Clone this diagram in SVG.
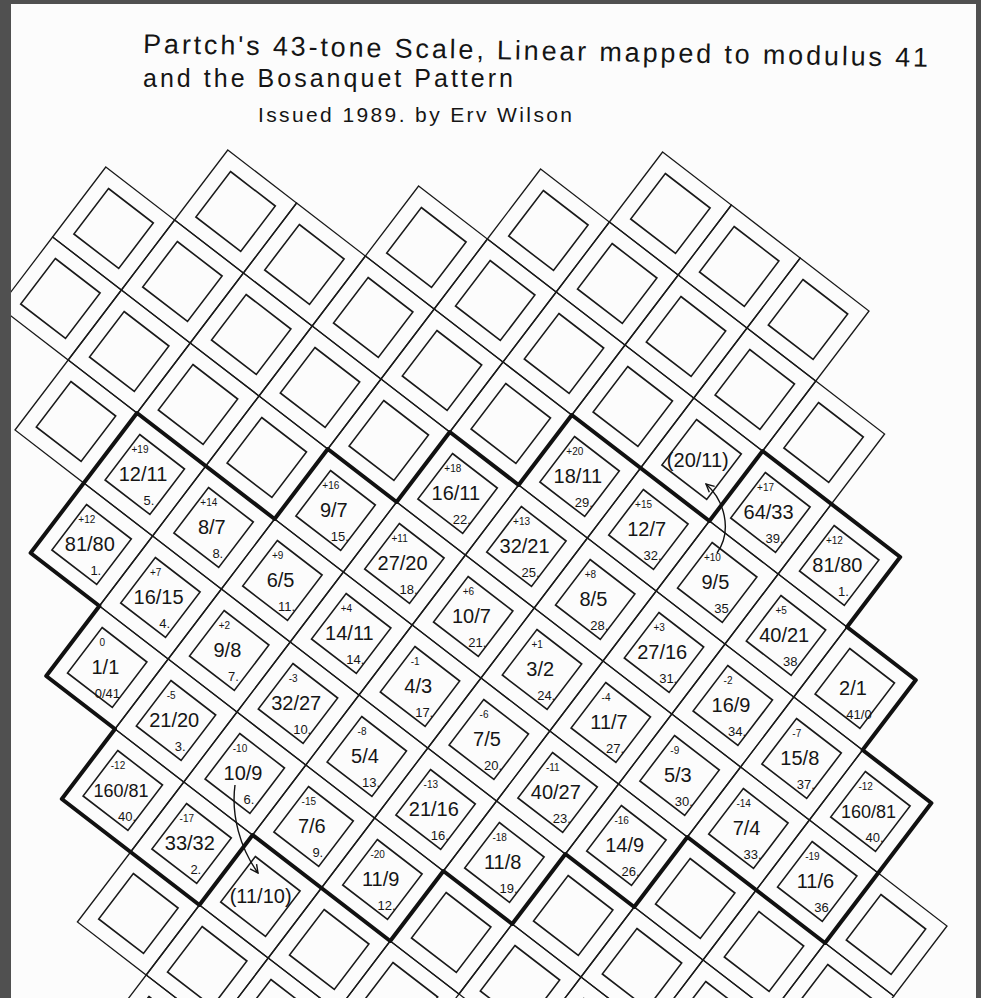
<svg xmlns="http://www.w3.org/2000/svg" width="981" height="998" viewBox="0 0 981 998">
<style>
.o{fill:none;stroke:#1a1a1a;stroke-width:1.3}
.i{fill:none;stroke:#1a1a1a;stroke-width:1.6}
text{font-family:"Liberation Sans",Arial,sans-serif;fill:#151515;text-anchor:middle}
.m{font-size:10px}
.f{font-size:20px}
.f5{font-size:18px}
.n{font-size:13px}
.p{font-size:20px}
.t{text-anchor:start}
.b{fill:none;stroke:#111;stroke-width:4;stroke-linejoin:round}
.a{fill:none;stroke:#111;stroke-width:1.4}
</style>
<defs>
<g id="cell"><polygon class="o" points="0,0 68.8,53 15.6,123 -53.2,70"/><polygon class="i" points="2.7,21.5 47.5,56 12.9,101.5 -31.9,67"/></g>
<marker id="ah" viewBox="0 0 10 10" refX="9" refY="5" markerWidth="10" markerHeight="10" markerUnits="userSpaceOnUse" orient="auto"><path d="M1,1 L9,5 L1,9" fill="none" stroke="#111" stroke-width="1.4"/></marker>
</defs>
<rect width="981" height="998" fill="#fcfcfc"/>

<g id="title">
<text class="t" x="143" y="53" font-size="27" textLength="785" lengthAdjust="spacing" transform="rotate(1 143 53)">Partch's 43-tone Scale, Linear mapped to modulus 41</text>
<text class="t" x="143" y="87" font-size="25" textLength="370" lengthAdjust="spacing">and the Bosanquet Pattern</text>
<text class="t" x="258" y="122" font-size="21" textLength="314" lengthAdjust="spacing">Issued 1989. by Erv Wilson</text>
</g>

<g id="empty-upper">
<g id="u_3_m6" transform="translate(662.6,152)"><use href="#cell"/></g>
<g id="u_4_m6" transform="translate(731.4,205)"><use href="#cell"/></g>
<g id="u_5_m6" transform="translate(800.2,258)"><use href="#cell"/></g>
<g id="u_2_m5" transform="translate(540.6,169)"><use href="#cell"/></g>
<g id="u_3_m5" transform="translate(609.4,222)"><use href="#cell"/></g>
<g id="u_4_m5" transform="translate(678.2,275)"><use href="#cell"/></g>
<g id="u_5_m5" transform="translate(747,328)"><use href="#cell"/></g>
<g id="u_6_m5" transform="translate(815.8,381)"><use href="#cell"/></g>
<g id="u_1_m4" transform="translate(418.6,186)"><use href="#cell"/></g>
<g id="u_2_m4" transform="translate(487.4,239)"><use href="#cell"/></g>
<g id="u_3_m4" transform="translate(556.2,292)"><use href="#cell"/></g>
<g id="u_4_m4" transform="translate(625,345)"><use href="#cell"/></g>
<g id="u_20-11" transform="translate(693.8,398)"><use href="#cell"/><text class="p" x="4" y="69">(20/11)</text></g>
<g id="u_m1_m3" transform="translate(227.8,150)"><use href="#cell"/></g>
<g id="u_0_m3" transform="translate(296.6,203)"><use href="#cell"/></g>
<g id="u_1_m3" transform="translate(365.4,256)"><use href="#cell"/></g>
<g id="u_2_m3" transform="translate(434.2,309)"><use href="#cell"/></g>
<g id="u_3_m3" transform="translate(503,362)"><use href="#cell"/></g>
<g id="u_m2_m2" transform="translate(105.8,167)"><use href="#cell"/></g>
<g id="u_m1_m2" transform="translate(174.6,220)"><use href="#cell"/></g>
<g id="u_0_m2" transform="translate(243.4,273)"><use href="#cell"/></g>
<g id="u_1_m2" transform="translate(312.2,326)"><use href="#cell"/></g>
<g id="u_2_m2" transform="translate(381,379)"><use href="#cell"/></g>
<g id="u_m2_m1" transform="translate(52.6,237)"><use href="#cell"/></g>
<g id="u_m1_m1" transform="translate(121.4,290)"><use href="#cell"/></g>
<g id="u_0_m1" transform="translate(190.2,343)"><use href="#cell"/></g>
<g id="u_1_m1" transform="translate(259,396)"><use href="#cell"/></g>
<g id="u_m1_0" transform="translate(68.2,360)"><use href="#cell"/></g>
</g>

<g id="empty-lower">
<g id="l_11-10" transform="translate(252.6,835)"><use href="#cell"/><text class="p" x="8" y="68">(11/10)</text></g>
<g id="l_5_3" transform="translate(321.4,888)"><use href="#cell"/></g>
<g id="l_6_3" transform="translate(390.2,941)"><use href="#cell"/></g>
<g id="l_3_4" transform="translate(130.6,852)"><use href="#cell"/></g>
<g id="l_4_4" transform="translate(199.4,905)"><use href="#cell"/></g>
<g id="l_5_4" transform="translate(268.2,958)"><use href="#cell"/></g>
<g id="l_4_5" transform="translate(146.2,975)"><use href="#cell"/></g>
<g id="l_6_2" transform="translate(443.4,871)"><use href="#cell"/></g>
<g id="l_7_2" transform="translate(512.2,924)"><use href="#cell"/></g>
<g id="l_8_2" transform="translate(581,977)"><use href="#cell"/></g>
<g id="l_7_1" transform="translate(565.4,854)"><use href="#cell"/></g>
<g id="l_8_1" transform="translate(634.2,907)"><use href="#cell"/></g>
<g id="l_9_1" transform="translate(703,960)"><use href="#cell"/></g>
<g id="l_8_0" transform="translate(687.4,837)"><use href="#cell"/></g>
<g id="l_9_0" transform="translate(756.2,890)"><use href="#cell"/></g>
<g id="l_10_0" transform="translate(825,943)"><use href="#cell"/></g>
<g id="l_10_m1" transform="translate(878.2,873)"><use href="#cell"/></g>
</g>

<g id="tones">
<g id="t_64-33" transform="translate(762.6,451)"><use href="#cell"/><text class="m" x="3" y="40">+17</text><text class="f" x="6" y="68">64/33</text><text class="n" x="12" y="92">39.</text></g>
<g id="t_81-80b" transform="translate(831.4,504)"><use href="#cell"/><text class="m" x="3" y="40">+12</text><text class="f" x="6" y="68">81/80</text><text class="n" x="12" y="92">1.</text></g>

<g id="t_18-11" transform="translate(571.8,415)"><use href="#cell"/><text class="m" x="3" y="40">+20</text><text class="f" x="6" y="68">18/11</text><text class="n" x="12" y="92">29.</text></g>
<g id="t_12-7" transform="translate(640.6,468)"><use href="#cell"/><text class="m" x="3" y="40">+15</text><text class="f" x="6" y="68">12/7</text><text class="n" x="12" y="92">32.</text></g>
<g id="t_9-5" transform="translate(709.4,521)"><use href="#cell"/><text class="m" x="3" y="40">+10</text><text class="f" x="6" y="68">9/5</text><text class="n" x="12" y="92">35</text></g>
<g id="t_40-21" transform="translate(778.2,574)"><use href="#cell"/><text class="m" x="3" y="40">+5</text><text class="f" x="6" y="68">40/21</text><text class="n" x="12" y="92">38</text></g>
<g id="t_2-1" transform="translate(847,627)"><use href="#cell"/><text class="f" x="6" y="68">2/1</text><text class="n" x="12" y="92">41/0</text></g>

<g id="t_16-11" transform="translate(449.8,432)"><use href="#cell"/><text class="m" x="3" y="40">+18</text><text class="f" x="6" y="68">16/11</text><text class="n" x="12" y="92">22.</text></g>
<g id="t_32-21" transform="translate(518.6,485)"><use href="#cell"/><text class="m" x="3" y="40">+13</text><text class="f" x="6" y="68">32/21</text><text class="n" x="12" y="92">25.</text></g>
<g id="t_8-5" transform="translate(587.4,538)"><use href="#cell"/><text class="m" x="3" y="40">+8</text><text class="f" x="6" y="68">8/5</text><text class="n" x="12" y="92">28.</text></g>
<g id="t_27-16" transform="translate(656.2,591)"><use href="#cell"/><text class="m" x="3" y="40">+3</text><text class="f" x="6" y="68">27/16</text><text class="n" x="12" y="92">31.</text></g>
<g id="t_16-9" transform="translate(725,644)"><use href="#cell"/><text class="m" x="3" y="40">-2</text><text class="f" x="6" y="68">16/9</text><text class="n" x="12" y="92">34.</text></g>
<g id="t_15-8" transform="translate(793.8,697)"><use href="#cell"/><text class="m" x="3" y="40">-7</text><text class="f" x="6" y="68">15/8</text><text class="n" x="12" y="92">37.</text></g>
<g id="t_160-81b" transform="translate(862.6,750)"><use href="#cell"/><text class="m" x="3" y="40">-12</text><text class="f5" x="6" y="68">160/81</text><text class="n" x="12" y="92">40.</text></g>

<g id="t_9-7" transform="translate(327.8,449)"><use href="#cell"/><text class="m" x="3" y="40">+16</text><text class="f" x="6" y="68">9/7</text><text class="n" x="12" y="92">15.</text></g>
<g id="t_27-20" transform="translate(396.6,502)"><use href="#cell"/><text class="m" x="3" y="40">+11</text><text class="f" x="6" y="68">27/20</text><text class="n" x="12" y="92">18.</text></g>
<g id="t_10-7" transform="translate(465.4,555)"><use href="#cell"/><text class="m" x="3" y="40">+6</text><text class="f" x="6" y="68">10/7</text><text class="n" x="12" y="92">21.</text></g>
<g id="t_3-2" transform="translate(534.2,608)"><use href="#cell"/><text class="m" x="3" y="40">+1</text><text class="f" x="6" y="68">3/2</text><text class="n" x="12" y="92">24.</text></g>
<g id="t_11-7" transform="translate(603,661)"><use href="#cell"/><text class="m" x="3" y="40">-4</text><text class="f" x="6" y="68">11/7</text><text class="n" x="12" y="92">27.</text></g>
<g id="t_5-3" transform="translate(671.8,714)"><use href="#cell"/><text class="m" x="3" y="40">-9</text><text class="f" x="6" y="68">5/3</text><text class="n" x="12" y="92">30.</text></g>
<g id="t_7-4" transform="translate(740.6,767)"><use href="#cell"/><text class="m" x="3" y="40">-14</text><text class="f" x="6" y="68">7/4</text><text class="n" x="12" y="92">33.</text></g>
<g id="t_11-6" transform="translate(809.4,820)"><use href="#cell"/><text class="m" x="3" y="40">-19</text><text class="f" x="6" y="68">11/6</text><text class="n" x="12" y="92">36</text></g>

<g id="t_12-11" transform="translate(137,413)"><use href="#cell"/><text class="m" x="3" y="40">+19</text><text class="f" x="6" y="68">12/11</text><text class="n" x="12" y="92">5.</text></g>
<g id="t_8-7" transform="translate(205.8,466)"><use href="#cell"/><text class="m" x="3" y="40">+14</text><text class="f" x="6" y="68">8/7</text><text class="n" x="12" y="92">8.</text></g>
<g id="t_6-5" transform="translate(274.6,519)"><use href="#cell"/><text class="m" x="3" y="40">+9</text><text class="f" x="6" y="68">6/5</text><text class="n" x="12" y="92">11.</text></g>
<g id="t_14-11" transform="translate(343.4,572)"><use href="#cell"/><text class="m" x="3" y="40">+4</text><text class="f" x="6" y="68">14/11</text><text class="n" x="12" y="92">14.</text></g>
<g id="t_4-3" transform="translate(412.2,625)"><use href="#cell"/><text class="m" x="3" y="40">-1</text><text class="f" x="6" y="68">4/3</text><text class="n" x="12" y="92">17.</text></g>
<g id="t_7-5" transform="translate(481,678)"><use href="#cell"/><text class="m" x="3" y="40">-6</text><text class="f" x="6" y="68">7/5</text><text class="n" x="12" y="92">20.</text></g>
<g id="t_40-27" transform="translate(549.8,731)"><use href="#cell"/><text class="m" x="3" y="40">-11</text><text class="f" x="6" y="68">40/27</text><text class="n" x="12" y="92">23.</text></g>
<g id="t_14-9" transform="translate(618.6,784)"><use href="#cell"/><text class="m" x="3" y="40">-16</text><text class="f" x="6" y="68">14/9</text><text class="n" x="12" y="92">26.</text></g>

<g id="t_81-80a" transform="translate(83.8,483)"><use href="#cell"/><text class="m" x="3" y="40">+12</text><text class="f" x="6" y="68">81/80</text><text class="n" x="12" y="92">1.</text></g>
<g id="t_16-15" transform="translate(152.6,536)"><use href="#cell"/><text class="m" x="3" y="40">+7</text><text class="f" x="6" y="68">16/15</text><text class="n" x="12" y="92">4.</text></g>
<g id="t_9-8" transform="translate(221.4,589)"><use href="#cell"/><text class="m" x="3" y="40">+2</text><text class="f" x="6" y="68">9/8</text><text class="n" x="12" y="92">7.</text></g>
<g id="t_32-27" transform="translate(290.2,642)"><use href="#cell"/><text class="m" x="3" y="40">-3</text><text class="f" x="6" y="68">32/27</text><text class="n" x="12" y="92">10.</text></g>
<g id="t_5-4" transform="translate(359,695)"><use href="#cell"/><text class="m" x="3" y="40">-8</text><text class="f" x="6" y="68">5/4</text><text class="n" x="12" y="92">13.</text></g>
<g id="t_21-16" transform="translate(427.8,748)"><use href="#cell"/><text class="m" x="3" y="40">-13</text><text class="f" x="6" y="68">21/16</text><text class="n" x="12" y="92">16.</text></g>
<g id="t_11-8" transform="translate(496.6,801)"><use href="#cell"/><text class="m" x="3" y="40">-18</text><text class="f" x="6" y="68">11/8</text><text class="n" x="12" y="92">19.</text></g>

<g id="t_1-1" transform="translate(99.4,606)"><use href="#cell"/><text class="m" x="3" y="40">0</text><text class="f" x="6" y="68">1/1</text><text class="n" x="8" y="92">0/41</text></g>
<g id="t_21-20" transform="translate(168.2,659)"><use href="#cell"/><text class="m" x="3" y="40">-5</text><text class="f" x="6" y="68">21/20</text><text class="n" x="12" y="92">3.</text></g>
<g id="t_10-9" transform="translate(237,712)"><use href="#cell"/><text class="m" x="3" y="40">-10</text><text class="f" x="6" y="68">10/9</text><text class="n" x="12" y="92">6.</text></g>
<g id="t_7-6" transform="translate(305.8,765)"><use href="#cell"/><text class="m" x="3" y="40">-15</text><text class="f" x="6" y="68">7/6</text><text class="n" x="12" y="92">9.</text></g>
<g id="t_11-9" transform="translate(374.6,818)"><use href="#cell"/><text class="m" x="3" y="40">-20</text><text class="f" x="6" y="68">11/9</text><text class="n" x="12" y="92">12.</text></g>

<g id="t_160-81a" transform="translate(115,729)"><use href="#cell"/><text class="m" x="3" y="40">-12</text><text class="f5" x="6" y="68">160/81</text><text class="n" x="12" y="92">40.</text></g>
<g id="t_33-32" transform="translate(183.8,782)"><use href="#cell"/><text class="m" x="3" y="40">-17</text><text class="f" x="6" y="68">33/32</text><text class="n" x="12" y="92">2.</text></g>
</g>

<g id="boundary">
<polygon class="b" points="137,413 274.6,519 327.8,449 396.6,502 449.8,432 518.6,485 571.8,415 709.4,521 762.6,451 900.2,557 847,627 915.8,680 862.6,750 931.4,803 825,943 687.4,837 634.2,907 565.4,854 512.2,924 443.4,871 390.2,941 252.6,835 199.4,905 61.8,799 115,729 46.2,676 99.4,606 30.6,553"/>
</g>

<g id="connectors">
<path class="a" d="M717,553 C733,530 724,500 706,484" marker-end="url(#ah)"/>
<path class="a" d="M235,785 C231,815 240,848 258,873" marker-end="url(#ah)"/>
</g>

<g id="frame" fill="#505050">
<rect x="0" y="0" width="11" height="998"/>
<rect x="0" y="0" width="981" height="4"/>
<rect x="976" y="0" width="5" height="998"/>
</g>
</svg>
